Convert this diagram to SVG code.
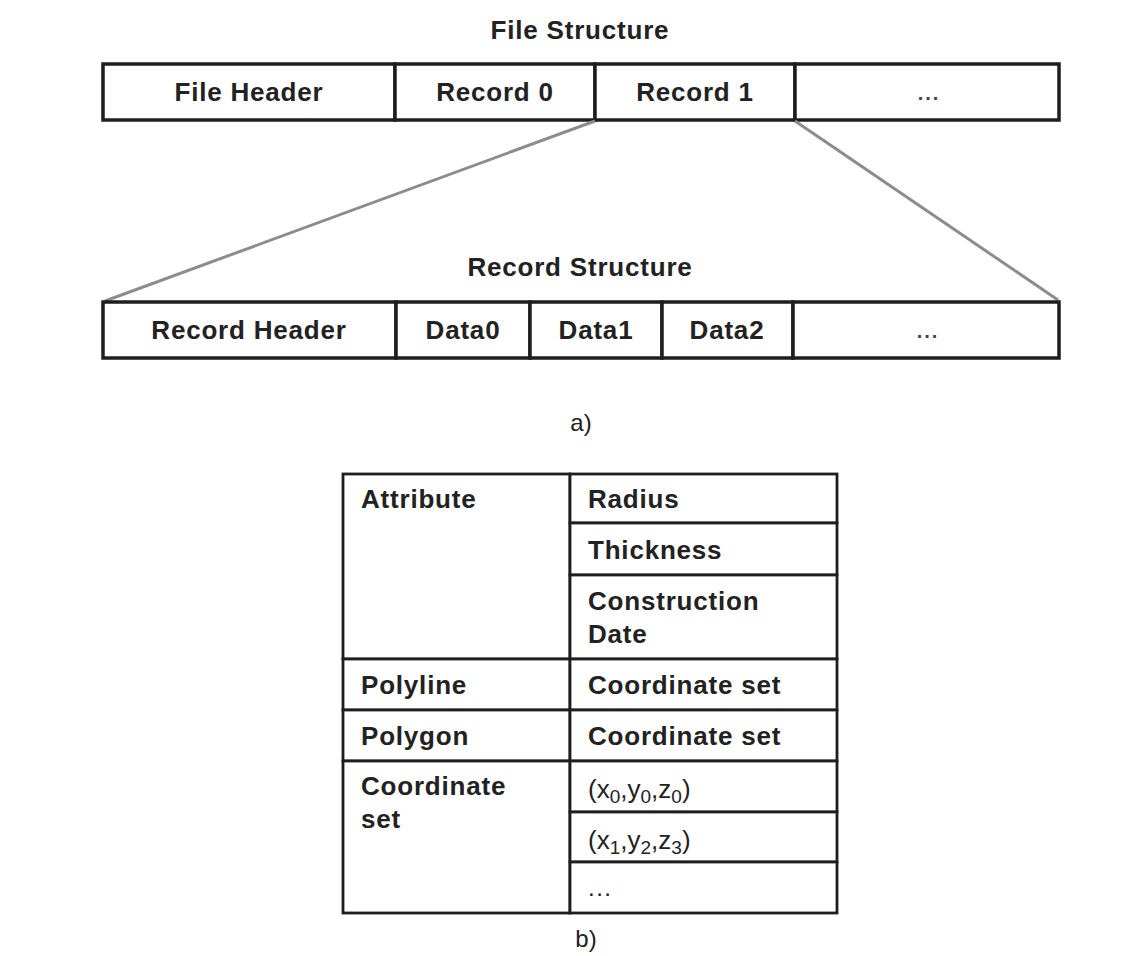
<svg xmlns="http://www.w3.org/2000/svg" width="1140" height="956" viewBox="0 0 1140 956">
<style>
.cell{fill:#fff;stroke:#1e1e1e;stroke-width:3.5}
.tc{fill:#fff;stroke:#1e1e1e;stroke-width:2.8}
.t{font-family:"Liberation Sans",Arial,sans-serif;font-weight:bold;font-size:26px;letter-spacing:0.8px;fill:#222}
.m{text-anchor:middle}
.r{font-family:"Liberation Sans",Arial,sans-serif;font-size:24px;fill:#222}
.c{font-family:"Liberation Sans",Arial,sans-serif;font-size:26px;fill:#222}
.dots{font-family:"Liberation Sans",Arial,sans-serif;font-weight:bold;font-size:20px;letter-spacing:2px;fill:#444;text-anchor:middle}
.conn{stroke:#8c8c8c;stroke-width:3;fill:none}
</style>
<rect width="1140" height="956" fill="#fff"/>

<text class="t m" x="580" y="39">File Structure</text>
<g id="file-structure">
  <g id="file-header"><rect class="cell" x="103" y="64" width="292" height="56"/><text class="t m" x="249" y="101">File Header</text></g>
  <g id="record0"><rect class="cell" x="395" y="64" width="200" height="56"/><text class="t m" x="495" y="101">Record 0</text></g>
  <g id="record1"><rect class="cell" x="595" y="64" width="200" height="56"/><text class="t m" x="695" y="101">Record 1</text></g>
  <g id="file-more"><rect class="cell" x="795" y="64" width="264" height="56"/><text class="dots" x="929" y="100">...</text></g>
</g>

<g id="connectors">
  <line class="conn" x1="595" y1="121" x2="105" y2="301"/>
  <line class="conn" x1="795" y1="121" x2="1058" y2="300"/>
</g>

<text class="t m" x="580" y="276">Record Structure</text>
<g id="record-structure">
  <g id="record-header"><rect class="cell" x="103" y="302" width="293" height="56"/><text class="t m" x="249" y="339">Record Header</text></g>
  <g id="data0"><rect class="cell" x="396" y="302" width="134" height="56"/><text class="t m" x="463" y="339">Data0</text></g>
  <g id="data1"><rect class="cell" x="530" y="302" width="132" height="56"/><text class="t m" x="596" y="339">Data1</text></g>
  <g id="data2"><rect class="cell" x="662" y="302" width="131" height="56"/><text class="t m" x="727" y="339">Data2</text></g>
  <g id="record-more"><rect class="cell" x="793" y="302" width="266" height="56"/><text class="dots" x="928" y="338">...</text></g>
</g>

<text class="r m" x="581" y="431">a)</text>

<g id="table-b">
  <g id="row-attribute">
    <rect class="tc" x="343" y="474" width="227" height="185"/>
    <text class="t" x="361" y="508">Attribute</text>
    <rect class="tc" x="570" y="474" width="267" height="49"/>
    <text class="t" x="588" y="508">Radius</text>
    <rect class="tc" x="570" y="523" width="267" height="52"/>
    <text class="t" x="588" y="559">Thickness</text>
    <rect class="tc" x="570" y="575" width="267" height="84"/>
    <text class="t" x="588" y="610">Construction</text>
    <text class="t" x="588" y="643">Date</text>
  </g>
  <g id="row-polyline">
    <rect class="tc" x="343" y="659" width="227" height="51"/>
    <text class="t" x="361" y="694">Polyline</text>
    <rect class="tc" x="570" y="659" width="267" height="51"/>
    <text class="t" x="588" y="694">Coordinate set</text>
  </g>
  <g id="row-polygon">
    <rect class="tc" x="343" y="710" width="227" height="51"/>
    <text class="t" x="361" y="745">Polygon</text>
    <rect class="tc" x="570" y="710" width="267" height="51"/>
    <text class="t" x="588" y="745">Coordinate set</text>
  </g>
  <g id="row-coordinate-set">
    <rect class="tc" x="343" y="761" width="227" height="152"/>
    <text class="t" x="361" y="795">Coordinate</text>
    <text class="t" x="361" y="828">set</text>
    <rect class="tc" x="570" y="761" width="267" height="51"/>
    <text class="c" x="588" y="798">(x<tspan font-size="19" dy="5">0</tspan><tspan dy="-5">,y</tspan><tspan font-size="19" dy="5">0</tspan><tspan dy="-5">,z</tspan><tspan font-size="19" dy="5">0</tspan><tspan dy="-5">)</tspan></text>
    <rect class="tc" x="570" y="812" width="267" height="50"/>
    <text class="c" x="588" y="849">(x<tspan font-size="19" dy="5">1</tspan><tspan dy="-5">,y</tspan><tspan font-size="19" dy="5">2</tspan><tspan dy="-5">,z</tspan><tspan font-size="19" dy="5">3</tspan><tspan dy="-5">)</tspan></text>
    <rect class="tc" x="570" y="862" width="267" height="51"/>
    <text class="r" x="588" y="896" letter-spacing="1.5">...</text>
  </g>
</g>

<text class="r m" x="586" y="947">b)</text>
</svg>
